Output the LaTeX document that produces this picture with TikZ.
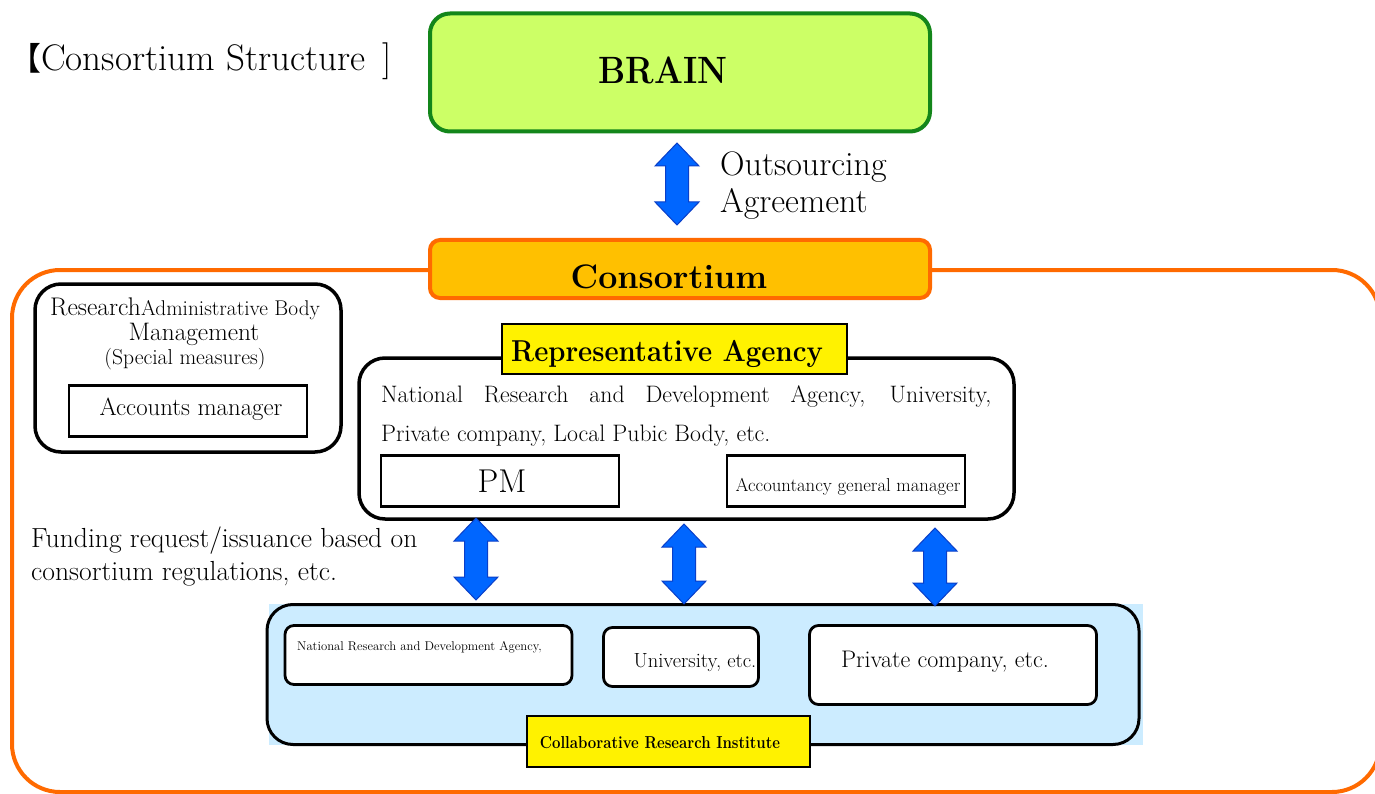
\documentclass[tikz,border=0pt]{standalone}
\usepackage{fontspec}
\newfontfamily\cjk{Noto Sans CJK JP}
\definecolor{braingreen}{HTML}{13861A}
\definecolor{brainfill}{HTML}{CCFF66}
\definecolor{consorange}{HTML}{FF6A00}
\definecolor{consfill}{HTML}{FFC000}
\definecolor{arrowblue}{HTML}{0066FF}
\definecolor{arrowedge}{HTML}{0A3FC8}
\definecolor{lightblue}{HTML}{CCECFF}
\newcommand\fsz[1]{\fontsize{#1}{#1}\selectfont}
\newcommand\dblarr[2]{%
  \path[dblarrow] (#1) -- ++(22,23) -- ++(-10.5,0) |- ($(#2)+(11.5,-23)$) -- ++(10.5,0) -- (#2)
    -- ++(-22,-23) -- ++(10.5,0) |- ($(#1)+(-11.5,23)$) -- ++(-10.5,0) -- cycle;}
\usetikzlibrary{calc}
\begin{document}
\begin{tikzpicture}[x=1pt,y=-1pt,
  txt/.style={inner sep=0pt, anchor=base west},
  ctxt/.style={inner sep=0pt, anchor=base},
  rbox/.style={draw, line width=3.5pt, rounded corners=26pt, fill=white, inner sep=0pt},
  sqbox/.style={draw, line width=2.2pt, fill=white, inner sep=0pt},
  smallr/.style={draw, line width=2.8pt, rounded corners=9pt, fill=white, inner sep=0pt},
  ylab/.style={draw, line width=2pt, fill=yellow, inner sep=0pt},
  dblarrow/.style={fill=arrowblue, draw=arrowedge, line width=1pt, line join=miter}]
\useasboundingbox (0,0) rectangle (1375,794);
\fill[white] (0,0) rectangle (1375,794);

% outer consortium frame
\draw[consorange, line width=4pt, rounded corners=48pt] (12,270) rectangle (1380,792);

% title
\node[txt] (title) at (9,71) {\fsz{37}{\cjk\fsz{32}【}Consortium Structure\hspace{6pt} ]};

% BRAIN
\node[draw=braingreen, fill=brainfill, line width=4pt, rounded corners=20pt,
      minimum width=500pt, minimum height=118pt, inner sep=0pt] (brain) at (680,72.5) {};
\node[ctxt, font=\bfseries\fsz{34}, yscale=1.12] (braintxt) at (663,84) {BRAIN};

% Consortium
\node[draw=consorange, fill=consfill, line width=4pt, rounded corners=10pt,
      minimum width=500pt, minimum height=58pt, inner sep=0pt] (cons) at (680,269) {};
\node[ctxt, font=\bfseries\fsz{34}] (constxt) at (669,288) {Consortium};

% outsourcing arrow
\coordinate (a0t) at (677,143);
\coordinate (a0b) at (677,225);
\dblarr{a0t}{a0b}
\node[txt, font=\fsz{34}] (outs1) at (720,176) {Outsourcing};
\node[txt, font=\fsz{34}] (outs2) at (720,213) {Agreement};

% Research Administrative Body Management
\node[rbox, minimum width=306pt, minimum height=168pt] (rabm) at (188,368) {};
\node[txt, font=\fsz{25.5}] (rabm1) at (50,315) {Research};
\node[txt, font=\fsz{21.3}] (rabm2) at (141,315) {Administrative Body};
\node[ctxt, font=\fsz{25.3}] (rabm3) at (194,340) {Management};
\node[ctxt, font=\fsz{21.6}] (rabm4) at (185,364) {(Special measures)};
\node[sqbox, minimum width=238pt, minimum height=51pt] (accm) at (188,411) {};
\node[ctxt, font=\fsz{24.8}] (accmtxt) at (191,415) {Accounts manager};

% Representative agency
\node[rbox, minimum width=655pt, minimum height=161pt] (rep) at (686.5,438.5) {};
\node[ylab, minimum width=345pt, minimum height=50pt] (replab) at (674,348.5) {};
\node[ctxt, font=\bfseries\fsz{27.5}, yscale=1.1] (replabtxt) at (667,361) {Representative Agency};
\node[txt, font=\fsz{23.8}] (rep1) at (381,402) {\makebox[610pt][s]{National Research and Development Agency, University,}};
\node[txt, font=\fsz{23.8}] (rep2) at (381,441) {Private company, Local Pubic Body, etc.};
\node[sqbox, minimum width=238pt, minimum height=51pt] (pm) at (500,481) {};
\node[ctxt, font=\fsz{33}] (pmtxt) at (502,492) {PM};
\node[sqbox, minimum width=238pt, minimum height=51pt] (agm) at (846,481) {};
\node[ctxt, font=\fsz{18.7}] (agmtxt) at (848,491) {Accountancy general manager};

% funding text
\node[txt, font=\fsz{27.6}] (fund1) at (31,547) {Funding request/issuance based on};
\node[txt, font=\fsz{27.6}] (fund2) at (31,580) {consortium regulations, etc.};

% Collaborative research institute
\fill[lightblue] (269,604) rectangle (1143,745);
\node[draw, line width=3pt, rounded corners=26pt, fill=lightblue, inner sep=0pt,
      minimum width=872pt, minimum height=140pt] (collab) at (703,674.5) {};
\node[smallr, minimum width=287pt, minimum height=59pt] (nrda) at (428.5,655) {};
\node[txt, font=\fsz{12.7}] (nrdatxt) at (297,650) {National Research and Development Agency,};
\node[smallr, minimum width=155pt, minimum height=59pt] (univ) at (681,657) {};
\node[ctxt, font=\fsz{20.5}] (univtxt) at (695,667) {University, etc.};
\node[smallr, minimum width=287pt, minimum height=79pt] (priv) at (953,665) {};
\node[ctxt, font=\fsz{24}] (privtxt) at (945,667) {Private company, etc.};
\node[ylab, minimum width=283pt, minimum height=51pt] (clab) at (668,741) {};
\node[ctxt, font=\bfseries\fsz{15}, yscale=1.15] (clabtxt) at (660,748) {Collaborative Research Institute};

% arrows between representative agency and collaborators
\coordinate (a1t) at (476,518); \coordinate (a1b) at (476,600);
\coordinate (a2t) at (684,524); \coordinate (a2b) at (684,604);
\coordinate (a3t) at (935,528); \coordinate (a3b) at (935,606);
\dblarr{a1t}{a1b}
\dblarr{a2t}{a2b}
\dblarr{a3t}{a3b}
\end{tikzpicture}
\end{document}
